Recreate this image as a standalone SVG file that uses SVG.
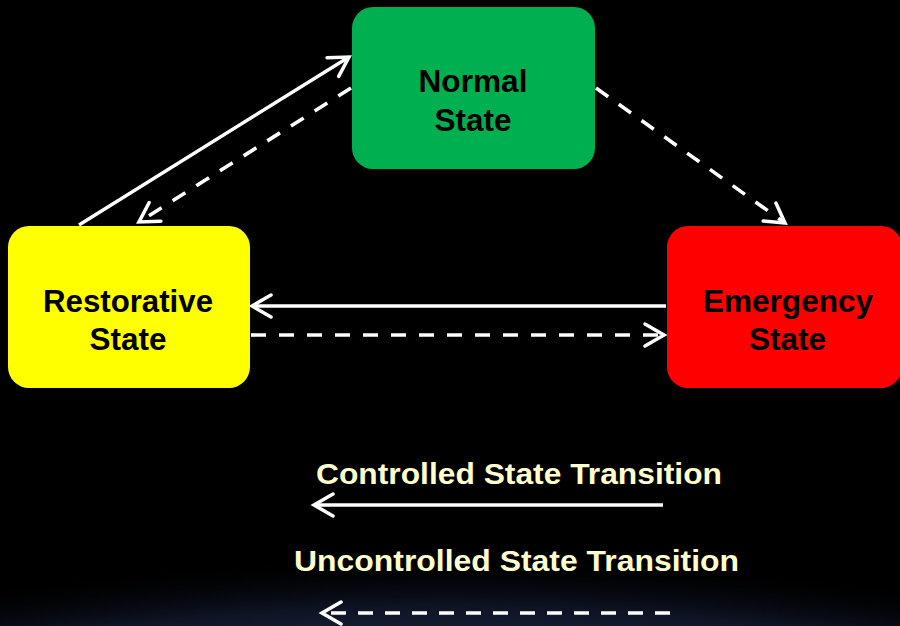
<svg xmlns="http://www.w3.org/2000/svg" width="900" height="626" viewBox="0 0 900 626">
  <defs>
    <radialGradient id="glow" cx="0.5" cy="0.5" r="0.5">
      <stop offset="0" stop-color="#34456f"/>
      <stop offset="0.5" stop-color="#222e50"/>
      <stop offset="0.78" stop-color="#0e1424"/>
      <stop offset="1" stop-color="#000000" stop-opacity="0"/>
    </radialGradient>
    <marker id="chev" viewBox="-24 -14 28 28" refX="0" refY="0" markerWidth="28" markerHeight="28" markerUnits="userSpaceOnUse" orient="auto">
      <path d="M -19 -11 L 0 0 L -19 11" fill="none" stroke="#ffffff" stroke-width="3.5" stroke-dasharray="none" stroke-linecap="round" stroke-linejoin="miter"/>
    </marker>
    <style>
      .box { stroke: none; }
      .lbl { font-family: "Liberation Sans", Arial, sans-serif; font-weight: bold; font-size: 31px; fill: #000000; text-anchor: middle; }
      .leg { font-family: "Liberation Sans", Arial, sans-serif; font-weight: bold; font-size: 30px; fill: #ffffcc; text-anchor: middle; }
      .solid { fill: none; stroke: #ffffff; stroke-width: 3.4; marker-end: url(#chev); }
      .dash { fill: none; stroke: #ffffff; stroke-width: 3.6; stroke-dasharray: 15 13; marker-end: url(#chev); }
    </style>
  </defs>

  <rect x="0" y="0" width="900" height="626" fill="#000000"/>
  <ellipse cx="450" cy="790" rx="950" ry="235" fill="url(#glow)"/>

  <g id="normal">
    <rect class="box" x="352" y="7" width="243" height="162" rx="21" fill="#00b050"/>
    <text class="lbl" x="473" y="92" textLength="109" lengthAdjust="spacingAndGlyphs">Normal</text>
    <text class="lbl" x="473" y="131" textLength="77" lengthAdjust="spacingAndGlyphs">State</text>
  </g>

  <g id="restorative">
    <rect class="box" x="8" y="226" width="242" height="162" rx="21" fill="#ffff00"/>
    <text class="lbl" x="128" y="312" textLength="170" lengthAdjust="spacingAndGlyphs">Restorative</text>
    <text class="lbl" x="128" y="350" textLength="77" lengthAdjust="spacingAndGlyphs">State</text>
  </g>

  <g id="emergency">
    <rect class="box" x="667" y="226" width="235" height="162" rx="21" fill="#ff0000"/>
    <text class="lbl" x="788" y="312" textLength="170" lengthAdjust="spacingAndGlyphs">Emergency</text>
    <text class="lbl" x="787.5" y="350" textLength="77" lengthAdjust="spacingAndGlyphs">State</text>
  </g>

  <g id="connectors">
    <line class="solid" x1="79" y1="225" x2="349" y2="57"/>
    <line class="dash" x1="351" y1="88" x2="139" y2="222"/>
    <line class="dash" x1="596" y1="88" x2="785" y2="223"/>
    <line class="solid" x1="666" y1="306" x2="252" y2="306"/>
    <line class="dash" x1="251" y1="335" x2="664" y2="335"/>
  </g>

  <g id="legend">
    <text class="leg" x="519" y="484" textLength="406" lengthAdjust="spacingAndGlyphs">Controlled State Transition</text>
    <line class="solid" x1="663" y1="505" x2="314" y2="505"/>
    <text class="leg" x="516.5" y="571" textLength="445" lengthAdjust="spacingAndGlyphs">Uncontrolled State Transition</text>
    <line class="dash" x1="670" y1="613" x2="322" y2="613" style="stroke-dasharray: 15 12"/>
  </g>
</svg>
